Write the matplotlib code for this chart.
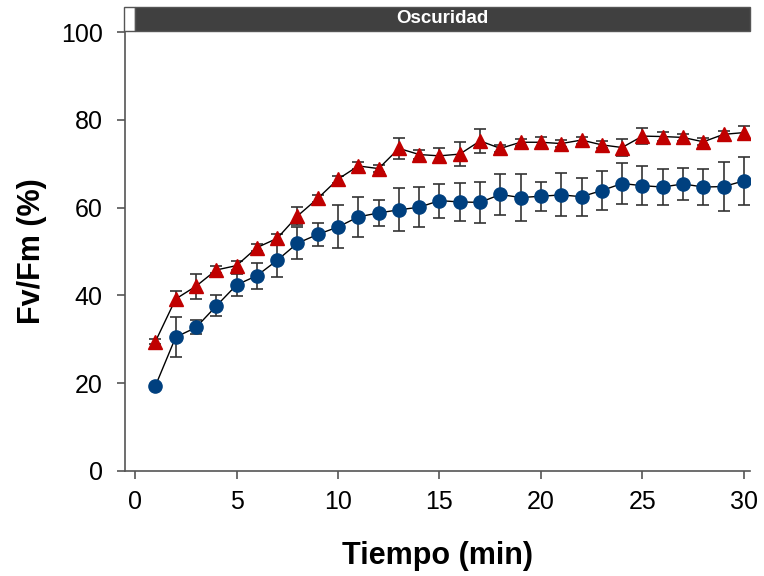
import matplotlib.pyplot as plt
from matplotlib.patches import Rectangle

plt.rcParams['font.family'] = ['Liberation Sans', 'DejaVu Sans']

tiempo = list(range(1, 31))

luz_media = [29.5, 39.2, 42.1, 45.8, 46.8, 50.9, 53.0, 58.1, 62.1, 66.5,
             69.5, 68.9, 73.5, 72.1, 71.8, 72.2, 75.2, 73.5, 74.9, 74.9,
             74.6, 75.4, 74.3, 73.7, 76.3, 76.2, 76.0, 75.0, 76.7, 77.1]
luz_err = [0.5, 1.7, 2.8, 0.8, 1.0, 0.8, 1.0, 2.0, 0.8, 0.8,
           0.8, 0.8, 2.4, 1.0, 1.7, 2.7, 2.7, 0.8, 0.8, 1.3,
           0.8, 0.8, 0.8, 1.9, 1.9, 1.0, 0.8, 0.8, 0.8, 1.6]

osc_media = [19.4, 30.5, 32.7, 37.6, 42.4, 44.5, 48.0, 51.9, 53.9, 55.6,
             57.9, 58.8, 59.5, 60.1, 61.6, 61.3, 61.2, 63.0, 62.3, 62.6,
             62.9, 62.5, 63.9, 65.5, 65.0, 64.7, 65.4, 64.7, 64.8, 66.1]
osc_err = [0.5, 4.5, 1.6, 2.4, 2.5, 3.0, 3.7, 3.6, 2.7, 4.9,
           4.5, 3.0, 4.9, 4.6, 3.9, 4.3, 4.6, 4.6, 5.3, 3.3,
           4.9, 4.3, 4.4, 4.7, 4.4, 4.0, 3.7, 4.0, 5.5, 5.4]

fig = plt.figure(figsize=(7.64, 5.76), dpi=100)
ax = fig.add_axes([0.1636, 0.1823, 0.818, 0.762])

ax.errorbar(tiempo, luz_media, yerr=luz_err, fmt='-^', color='black', lw=1,
            ecolor='#333333', elinewidth=1.2, capsize=4, capthick=1.2,
            markerfacecolor='#C00000', markeredgecolor='#C00000', markersize=10.5, zorder=3)
ax.errorbar(tiempo, osc_media, yerr=osc_err, fmt='-o', color='black', lw=1,
            ecolor='#333333', elinewidth=1.2, capsize=4, capthick=1.2,
            markerfacecolor='#00407F', markeredgecolor='#00407F', markersize=9.5, zorder=3)

ax.set_xlim(-0.5, 30.3)
ax.set_ylim(0, 100)
ax.set_xticks(range(0, 31, 5))
ax.set_yticks(range(0, 101, 20))
for s in ['top', 'right']:
    ax.spines[s].set_visible(False)
for s in ['left', 'bottom']:
    ax.spines[s].set_color('#555555')
    ax.spines[s].set_linewidth(1.2)
ax.tick_params(direction='out', length=6, width=1.2, color='#555555', labelsize=18)
ax.tick_params(axis='y', pad=10)
ax.tick_params(axis='x', pad=8)

ax.set_xlabel('Tiempo (min)', fontsize=22, fontweight='bold', labelpad=19)
ax.set_ylabel('Fv/Fm (%)', fontsize=22, fontweight='bold', labelpad=10)

# barra de luz / oscuridad
ax.add_patch(Rectangle((-0.002, 1.003), 0.018, 0.054, transform=ax.transAxes,
                       facecolor='white', edgecolor='#555555', lw=1, clip_on=False))
ax.add_patch(Rectangle((0.016, 1.003), 0.984, 0.054, transform=ax.transAxes,
                       facecolor='#404040', edgecolor='#555555', lw=1, clip_on=False))
ax.text(0.508, 1.030, 'Oscuridad', transform=ax.transAxes, ha='center', va='center',
        color='white', fontsize=13.5, fontweight='bold')

fig.savefig('out.png', dpi=100)
